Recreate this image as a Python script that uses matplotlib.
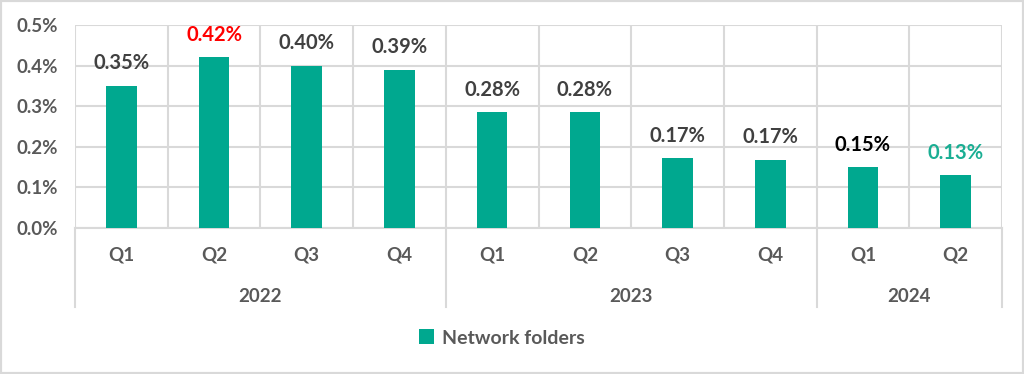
import matplotlib
matplotlib.use("Agg")
import matplotlib.pyplot as plt
import matplotlib.transforms as mtransforms
from matplotlib.patches import Rectangle
import numpy as np

plt.rcParams['font.family'] = ['Lato', 'DejaVu Sans']

quarters = ["Q1", "Q2", "Q3", "Q4", "Q1", "Q2", "Q3", "Q4", "Q1", "Q2"]
years = ["2022", "2023", "2024"]
year_counts = [4, 4, 2]
values = [0.35, 0.42, 0.40, 0.39, 0.285, 0.285, 0.172, 0.168, 0.15, 0.13]
labels = ["0.35%", "0.42%", "0.40%", "0.39%", "0.28%", "0.28%", "0.17%", "0.17%", "0.15%", "0.13%"]
label_colors = ["#404040", "#FF0000", "#404040", "#404040", "#404040",
                "#404040", "#404040", "#404040", "#000000", "#1AAE93"]
yticks = [0.0, 0.1, 0.2, 0.3, 0.4, 0.5]
series_name = "Network folders"

bar_color = "#00A88F"
grid_color = "#D9D9D9"
text_gray = "#595959"

fig = plt.figure(figsize=(10.24, 3.74), dpi=100)
fig.patches.append(Rectangle((0, 0), 1, 1, transform=fig.transFigure,
                             fill=False, edgecolor="#D9D9D9", linewidth=3))
ax = fig.add_axes([75/1024, 1-228/374, (1002-75)/1024, (228-25)/374])

x = np.arange(len(values))
ax.bar(x, values, width=0.33, color=bar_color, zorder=3, label=series_name)
ax.set_xlim(-0.5, len(values)-0.5)
ax.set_ylim(0, 0.5)

for xi, v, lab, c in zip(x, values, labels, label_colors):
    ax.annotate(lab, (xi, v), xytext=(0, 9), textcoords="offset points",
                ha="center", va="bottom", fontsize=14.5, fontweight="bold", color=c)

ax.set_yticks(yticks)
ax.set_yticklabels([f"{t:.1f}%" for t in yticks], fontsize=13.5, fontweight="bold", color=text_gray)
ax.set_xticks(x)
ax.set_xticklabels(quarters, fontsize=13.5, fontweight="bold", color=text_gray)
ax.tick_params(axis="both", length=0)
ax.tick_params(axis="x", pad=13)
ax.tick_params(axis="y", pad=12)

for s in ["top", "right", "left"]:
    ax.spines[s].set_visible(False)
ax.spines["bottom"].set_color(grid_color)
ax.spines["bottom"].set_linewidth(1.5)

for t in yticks:
    ax.axhline(t, color=grid_color, linewidth=1.5, zorder=1)
for b in np.arange(-0.5, len(values), 1.0):
    ax.axvline(b, color=grid_color, linewidth=1.5, zorder=1)

trans = mtransforms.blended_transform_factory(ax.transData, ax.transAxes)
bounds = np.concatenate([[0], np.cumsum(year_counts)]) - 0.5
for b in bounds:
    ax.plot([b, b], [0, -0.39], color=grid_color, linewidth=1.5,
            transform=trans, clip_on=False)
for i, yr in enumerate(years):
    mid = (bounds[i] + bounds[i+1]) / 2
    ax.text(mid, -0.335, yr, transform=trans, ha="center", va="center",
            fontsize=13.5, fontweight="bold", color=text_gray)

leg = fig.legend(loc="center", bbox_to_anchor=(0.49, 1-338/374), frameon=False,
                 prop={"size": 14, "weight": "bold"}, handlelength=0.8,
                 handleheight=0.8, handletextpad=0.4)
for t in leg.get_texts():
    t.set_color(text_gray)

fig.savefig("out.png", dpi=100)
